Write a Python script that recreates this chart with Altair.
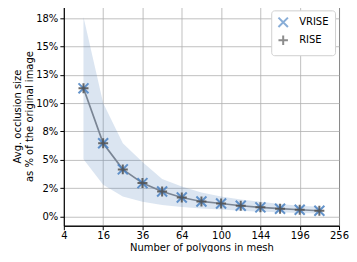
import altair as alt
import pandas as pd

n_polygons = [9, 16, 25, 36, 49, 64, 81, 100, 121, 144, 169, 196, 225]
vrise = [11.3, 6.45, 4.15, 2.94, 2.2, 1.67, 1.32, 1.14, 0.94, 0.8, 0.68, 0.59, 0.5]
rise = [11.3, 6.45, 4.15, 2.94, 2.2, 1.67, 1.32, 1.14, 0.94, 0.8, 0.68, 0.59, 0.5]
band_upper = [17.6, 10.0, 6.45, 4.8, 3.3, 2.64, 2.1, 1.75, 1.5, 1.3, 1.1, 0.95, 0.85]
band_lower = [5.05, 2.8, 1.76, 1.3, 1.0, 0.83, 0.7, 0.6, 0.5, 0.42, 0.36, 0.3, 0.26]
x_ticks = [4, 16, 36, 64, 100, 144, 196, 256]
y_ticks = [0, 2.5, 5, 7.5, 10, 12.5, 15, 17.5]
y_tick_labels = ["0%", "2%", "5%", "8%", "10%", "13%", "15%", "18%"]

band_df = pd.DataFrame({"n": n_polygons, "lo": band_lower, "hi": band_upper})
pts = pd.DataFrame({
    "n": n_polygons * 2,
    "v": vrise + rise,
    "series": ["VRISE"] * len(vrise) + ["RISE"] * len(rise),
})
line_df = pd.DataFrame({"n": n_polygons, "v": vrise})

label_map = "{" + ",".join(f"'{t}':'{l}'" for t, l in zip(y_ticks, y_tick_labels)) + "}"

xscale = alt.Scale(type="sqrt", domain=[4, 256], zero=False, nice=False)
yscale = alt.Scale(domain=[-0.82, 18.53], nice=False, zero=False)

xaxis = alt.Axis(values=x_ticks, tickCount=30, title="Number of polygons in mesh", grid=True,
                 labelOverlap=False, labelFlush=False, labelBound=False,
                 labelPadding=1, titlePadding=2)
yaxis = alt.Axis(values=y_ticks, tickCount=30, labelExpr=f"{label_map}[toString(datum.value)]",
                 title=["Avg. occlusion size", "as % of the original image"], grid=True,
                 labelOverlap=False, labelFlush=False, labelBound=False,
                 labelPadding=2, titlePadding=1)

band = alt.Chart(band_df).mark_area(color="#4a7ebb", opacity=0.2).encode(
    x=alt.X("n:Q", scale=xscale, axis=xaxis),
    y=alt.Y("hi:Q", scale=yscale, axis=yaxis),
    y2="lo:Q",
)

line = alt.Chart(line_df).mark_line(color="#7a8594", strokeWidth=1.7).encode(
    x=alt.X("n:Q", scale=xscale),
    y=alt.Y("v:Q", scale=yscale),
)

x_shape = "M-1,-1L1,1M-1,1L1,-1"
plus_shape = "M-1,0L1,0M0,-1L0,1"

points = alt.Chart(pts).mark_point(filled=False, strokeWidth=2, size=100, opacity=0.85).encode(
    x=alt.X("n:Q", scale=xscale),
    y=alt.Y("v:Q", scale=yscale),
    color=alt.Color("series:N", scale=alt.Scale(domain=["VRISE", "RISE"], range=["#4a82c3", "#505050"]),
                    legend=alt.Legend(title=None, orient="top-right", offset=4,
                                      fillColor="white", strokeColor="#d0d0d0",
                                      padding=6, cornerRadius=3,
                                      labelFontSize=10, symbolSize=90, symbolStrokeWidth=2,
                                      rowPadding=0, labelOffset=10, symbolOpacity=0.65)),
    shape=alt.Shape("series:N", scale=alt.Scale(domain=["VRISE", "RISE"], range=[x_shape, plus_shape]),
                    legend=alt.Legend(title=None, orient="top-right")),
    order=alt.Order("series:N", sort="descending"),
)

chart = (band + line + points).properties(
    width=276, height=220,
    padding={"left": 4, "top": -2, "right": 0, "bottom": -1},
).configure(font="DejaVu Sans").configure_view(
    stroke="black", strokeWidth=1
).configure_axis(
    labelFont="DejaVu Sans", titleFont="DejaVu Sans", labelFontSize=10, titleFontSize=10,
    titleFontWeight="normal", labelColor="black", titleColor="black",
    domainColor="black", tickColor="black", tickSize=4,
    gridColor="#b0b0b0", gridWidth=0.8,
).configure_legend(labelFont="DejaVu Sans")

chart.save("out.html", embed_options={"renderer": "svg", "actions": False})
